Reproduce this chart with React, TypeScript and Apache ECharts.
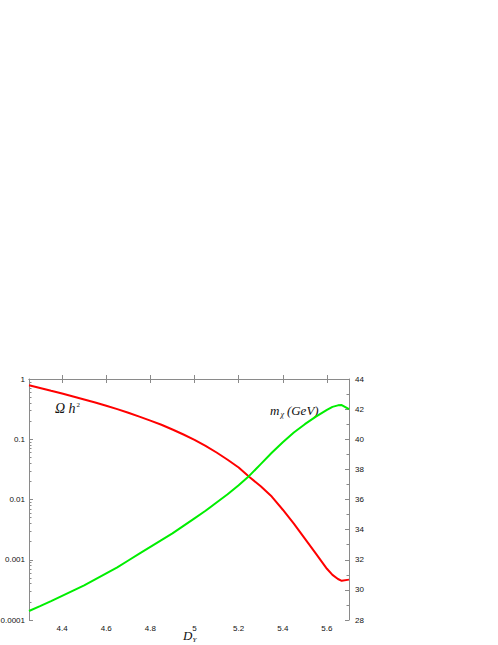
import React, { useEffect, useRef } from "react";
import * as echarts from "echarts";

// D_Y values (x axis)
const dY = [4.25, 4.3, 4.35, 4.4, 4.45, 4.5, 4.55, 4.6, 4.65, 4.7, 4.75, 4.8, 4.85, 4.9, 4.95, 5.0, 5.05, 5.1, 5.15, 5.2, 5.25, 5.3, 5.35, 5.4, 5.45, 5.5, 5.55, 5.6, 5.625, 5.65, 5.667, 5.7];
// Omega h^2 (left, log axis)
const omegaH2 = [0.785, 0.708, 0.638, 0.575, 0.513, 0.457, 0.407, 0.359, 0.316, 0.275, 0.237, 0.204, 0.174, 0.145, 0.12, 0.0977, 0.0776, 0.0603, 0.0457, 0.0339, 0.0234, 0.0166, 0.0112, 0.00676, 0.00398, 0.00224, 0.00126, 0.000708, 0.000562, 0.000479, 0.000447, 0.000468];
// m_chi in GeV (right axis)
const mChi = [28.6, 28.92, 29.25, 29.6, 29.95, 30.3, 30.7, 31.1, 31.5, 31.95, 32.4, 32.85, 33.3, 33.75, 34.25, 34.75, 35.25, 35.8, 36.35, 36.95, 37.6, 38.35, 39.1, 39.8, 40.45, 41.0, 41.5, 41.95, 42.15, 42.25, 42.27, 42.0];

const xTickValues = [4.4, 4.6, 4.8, 5, 5.2, 5.4, 5.6];
const xTickLabels = ["4.4", "4.6", "4.8", "5", "5.2", "5.4", "5.6"];
const leftTickLabels = ["0.0001", "0.001", "0.01", "0.1", "1"];
const leftMinorExponents: number[] = [];
for (let d = -4; d < 0; d++) {
  for (let k = 2; k <= 9; k++) leftMinorExponents.push(d + Math.log10(k));
}

const AXIS = "#8a8a8a";
const LABEL = { fontSize: 8, color: "#111", fontFamily: "Liberation Sans, Arial, sans-serif" };

export default function App() {
  const ref = useRef<HTMLDivElement>(null);
  useEffect(() => {
    if (!ref.current) return;
    const chart = echarts.init(ref.current, undefined, { renderer: "svg" });
    const serif = "Liberation Serif, Times New Roman, serif";
    chart.setOption({
      animation: false,
      backgroundColor: "#fff",
      grid: { left: 29, right: 149, top: 379, bottom: 25, containLabel: false, outerBoundsMode: "none" },
      xAxis: [
        {
          type: "value",
          position: "bottom",
          min: 4.25,
          max: 5.7,
          axisLine: { show: true, lineStyle: { color: AXIS, width: 1 } },
          axisTick: { show: true, inside: true, length: 4, customValues: xTickValues, lineStyle: { color: AXIS } },
          axisLabel: {
            ...LABEL,
            margin: 4,
            customValues: xTickValues,
            formatter: (v: number) => {
              const i = xTickValues.findIndex((t) => Math.abs(t - v) < 1e-6);
              return i >= 0 ? xTickLabels[i] : "";
            },
          },
          splitLine: { show: false },
        },
        {
          type: "value",
          position: "top",
          min: 4.25,
          max: 5.7,
          axisLine: { show: true, lineStyle: { color: AXIS, width: 1 } },
          axisTick: { show: true, inside: true, length: 4, customValues: xTickValues, lineStyle: { color: AXIS } },
          axisLabel: { show: false },
          splitLine: { show: false },
        },
      ],
      yAxis: [
        {
          type: "log",
          logBase: 10,
          min: 0.0001,
          max: 1,
          position: "left",
          axisLine: { show: true, lineStyle: { color: AXIS, width: 1 } },
          axisTick: { show: true, inside: true, length: 4, lineStyle: { color: AXIS } },
          axisLabel: {
            ...LABEL,
            margin: 4,
            formatter: (v: number) => leftTickLabels[Math.round(Math.log10(v)) + 4] ?? "",
          },
          splitLine: { show: false },
        },
        {
          type: "value",
          min: 28,
          max: 44,
          interval: 2,
          position: "right",
          axisLine: { show: true, lineStyle: { color: AXIS, width: 1 } },
          axisTick: { show: true, inside: true, length: 4, lineStyle: { color: AXIS } },
          minorTick: { show: true, splitNumber: 2, length: 2.5, lineStyle: { color: AXIS } },
          axisLabel: { ...LABEL, margin: 6 },
          splitLine: { show: false },
        },
        {
          type: "value",
          min: -4,
          max: 0,
          position: "left",
          axisLine: { show: false },
          axisTick: { show: true, inside: true, length: 2.5, customValues: leftMinorExponents, lineStyle: { color: AXIS } },
          axisLabel: { show: false },
          splitLine: { show: false },
        },
      ],
      series: [
        {
          type: "line",
          name: "Ωh²",
          xAxisIndex: 0,
          yAxisIndex: 0,
          data: dY.map((x, i) => [x, omegaH2[i]]),
          showSymbol: false,
          smooth: false,
          lineStyle: { color: "#ff0000", width: 2 },
          silent: true,
        },
        {
          type: "line",
          name: "mχ",
          xAxisIndex: 0,
          yAxisIndex: 1,
          data: dY.map((x, i) => [x, mChi[i]]),
          showSymbol: false,
          smooth: false,
          lineStyle: { color: "#00ee00", width: 2 },
          silent: true,
        },
      ],
      graphic: [
        {
          type: "text",
          left: 55,
          top: 401,
          style: {
            text: "{a|Ω h}{b|2}",
            rich: {
              a: { fontFamily: serif, fontStyle: "italic", fontSize: 14, fill: "#111", verticalAlign: "bottom" },
              b: { fontFamily: serif, fontSize: 7, fill: "#111", verticalAlign: "top", padding: [0, 0, 0, 1] },
            },
          },
        },
        {
          type: "text",
          left: 270,
          top: 402,
          style: {
            text: "{a|m}{s|χ}{a|(GeV)}",
            rich: {
              a: { fontFamily: serif, fontStyle: "italic", fontSize: 13, lineHeight: 14, fill: "#111", verticalAlign: "top" },
              s: { fontFamily: serif, fontStyle: "italic", fontSize: 8, lineHeight: 9, fill: "#111", verticalAlign: "bottom", padding: [8, 3, 0, 1] },
            },
          },
        },
        {
          type: "text",
          left: 183,
          top: 629,
          style: {
            text: "{a|D}{s|Y}",
            rich: {
              a: { fontFamily: serif, fontStyle: "italic", fontSize: 13, lineHeight: 14, fill: "#111", verticalAlign: "top" },
              s: { fontFamily: serif, fontStyle: "italic", fontSize: 7, lineHeight: 8, fill: "#111", verticalAlign: "bottom", padding: [6, 0, 0, 0] },
            },
          },
        },
      ],
    });
    return () => chart.dispose();
  }, []);
  return (
    <div
      ref={ref}
      style={{ position: "fixed", left: 0, top: 0, width: 498, height: 645, background: "#fff" }}
    />
  );
}
